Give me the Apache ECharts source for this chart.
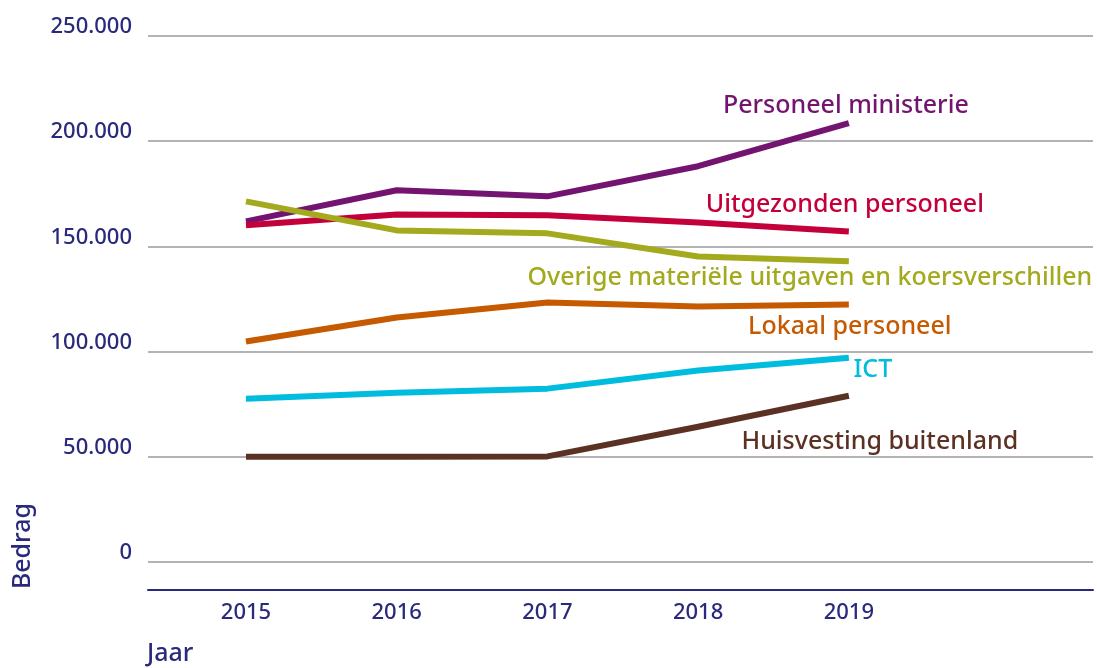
<!DOCTYPE html>
<html>
<head>
<meta charset="utf-8">
<script src="https://cdn.jsdelivr.net/npm/echarts@6/dist/echarts.min.js"></script>
<style>
  html, body { margin: 0; padding: 0; background: #fff; }
  #chart { width: 1097px; height: 668px; }
</style>
</head>
<body>
<div id="chart"></div>
<script>
// jaren en bedragen
var jaren = [2015, 2016, 2017, 2018, 2019];
var yTicks = [0, 50000, 100000, 150000, 200000, 250000];

var personeelMinisterie = [161900, 176700, 173800, 188100, 208600];
var uitgezondenPersoneel = [160000, 165200, 164800, 161400, 157100];
var overigeMaterieel = [171400, 157600, 156200, 145200, 142900];
var lokaalPersoneel = [104800, 116200, 123300, 121400, 122400];
var ict = [77600, 80500, 82400, 91000, 97100];
var huisvesting = [50000, 50000, 50200, 64300, 79000];

var navy = '#2a2a7c';
var font = '"Noto Sans", "Open Sans", sans-serif';

// naam, kleur, waarden, label offset t.o.v. eindpunt
var reeksen = [
	['Personeel ministerie', '#731470', personeelMinisterie, [-3, -17]],
	['Uitgezonden personeel', '#c4003b', uitgezondenPersoneel, [-4, -27]],
	['Overige materiële uitgaven en koersverschillen', '#a3aa1e', overigeMaterieel, [-39, 17]],
	['Lokaal personeel', '#c55a00', lokaalPersoneel, [1, 22]],
	['ICT', '#00bde0', ict, [24, 12]],
	['Huisvesting buitenland', '#5b3124', huisvesting, [31, 46]]
];

function fmt(v){
	if(v === 0) return '0';
	return Math.floor(v / 1000) + '.' + ('00' + (v % 1000)).slice(-3);
}

var series = reeksen.map(function(r){
	var data = jaren.map(function(j, i){
		var item = { value: [j, r[2][i]] };
		if(i === jaren.length - 1){
			item.label = {
				show: true,
				formatter: r[0],
				position: 'inside',
				align: 'center',
				verticalAlign: 'middle',
				offset: r[3],
				color: r[1],
				fontSize: 25,
				fontWeight: 500,
				fontFamily: font
			};
		}
		return item;
	});
	return {
		name: r[0],
		type: 'line',
		data: data,
		symbol: 'circle',
		symbolSize: 0,
		showSymbol: true,
		itemStyle: { color: r[1] },
		lineStyle: { color: r[1], width: 6, cap: 'butt', join: 'round' },
		emphasis: { disabled: true },
		z: 3
	};
});

var option = {
	backgroundColor: '#fff',
	animation: false,
	grid: { left: 148, right: 4, top: 36, bottom: 106 },
	xAxis: {
		type: 'value',
		min: 2014.35,
		max: 2020.62,
		offset: 28,
		axisLine: { show: true, onZero: false, lineStyle: { color: navy, width: 2 } },
		axisTick: { show: false },
		splitLine: { show: false },
		axisLabel: {
			customValues: jaren,
			formatter: function(v){ return String(Math.round(v)); },
			color: navy,
			fontSize: 22,
			fontWeight: 500,
			fontFamily: font,
			margin: 12
		}
	},
	yAxis: {
		type: 'value',
		min: 0,
		max: 250000,
		interval: 50000,
		axisLine: { show: false },
		axisTick: { show: false },
		splitLine: { lineStyle: { color: '#9a9a9a', width: 1.5 } },
		axisLabel: {
			formatter: fmt,
			color: navy,
			fontSize: 22,
			fontWeight: 500,
			fontFamily: font,
			margin: 16,
			verticalAlign: 'bottom',
			lineHeight: 18
		}
	},
	graphic: [
		{
			type: 'text', left: 10, top: 503, rotation: Math.PI / 2,
			style: { text: 'Bedrag', fill: navy, fontSize: 25, fontWeight: 500, fontFamily: font }
		},
		{
			type: 'text', left: 147, top: 641,
			style: { text: 'Jaar', fill: navy, fontSize: 25, fontWeight: 500, fontFamily: font }
		}
	],
	series: series
};

var myChart = echarts.init(document.getElementById('chart'), null, { renderer: 'canvas' });
myChart.setOption(option);
</script>
</body>
</html>
